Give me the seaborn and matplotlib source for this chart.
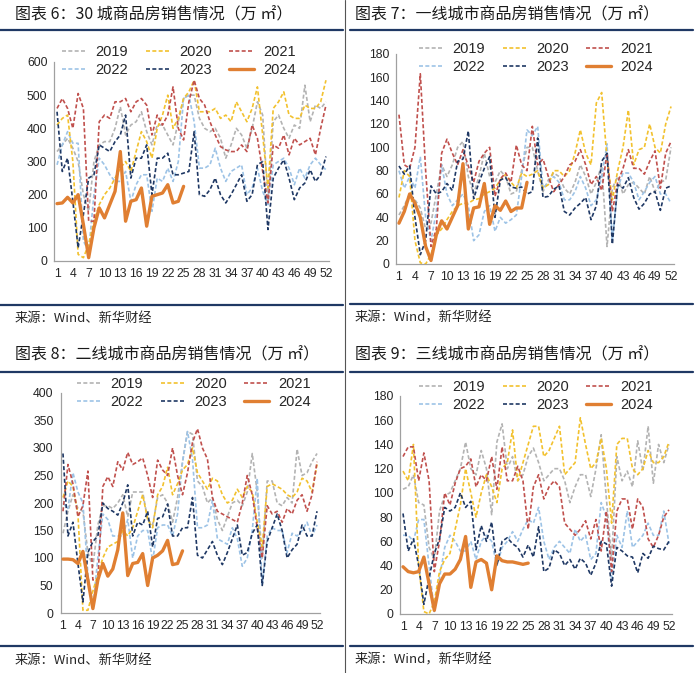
import matplotlib
matplotlib.use("Agg")
import matplotlib.pyplot as plt
from matplotlib.lines import Line2D
import seaborn as sns
import pandas as pd

sns.set_theme(style="white")
plt.rcParams['font.family'] = ['Liberation Sans', 'Noto Sans CJK SC', 'DejaVu Sans']

weeks = list(range(1, 53))
weeks_2024 = list(range(1, 26))
years = ["2019", "2020", "2021", "2022", "2023", "2024"]

# ---- 30 cities ----
c30_2019 = [330,350,370,340,300,200,150,300,350,360, 360,400,465,380,410,420,450,390,350,410,
            410,380,350,420,490,500,500,430,400,390, 400,370,310,350,400,380,340,400,480,440,
            180,420,440,400,370,410,400,530,420,470, 460,480]
c30_2020 = [410,430,440,300,20,10,50,120,170,200, 220,250,280,300,270,330,390,360,310,400,
            440,500,400,430,490,510,545,450,450,450, 460,430,440,420,480,450,420,460,525,380,
            220,460,480,510,440,430,430,470,460,460, 480,545]
c30_2021 = [460,490,460,400,505,460,120,120,420,440, 430,480,480,490,450,480,490,470,380,440,
            410,440,525,400,365,480,545,490,470,420, 380,345,335,330,330,350,330,410,370,270,
            175,350,340,380,320,370,350,360,370,320, 400,470]
c30_2022 = [290,350,390,355,355,60,30,200,310,290, 260,240,240,270,180,230,260,260,150,250,
            240,280,240,300,490,500,420,280,280,290, 340,280,240,270,280,290,200,220,280,210,
            170,290,300,310,280,230,280,250,290,310, 290,275]
c30_2023 = [450,270,310,180,40,140,250,260,350,340, 330,360,380,440,250,310,310,350,200,310,
            310,325,260,260,265,270,390,200,195,215, 250,200,175,200,230,260,180,200,290,300,
            95,250,280,305,250,185,220,235,275,240, 260,315]
c30_2024 = [173,175,192,175,200,110,10,100,160,130, 170,210,330,120,180,185,220,105,195,200,
            205,230,175,180,225]

# ---- tier-1 cities ----
t1_2019 = [42,50,60,55,48,30,35,60,85,75, 85,100,105,75,60,75,95,75,70,80,
           75,60,62,80,100,100,80,62,72,78, 75,65,60,70,85,75,60,70,85,15,
           65,75,60,68,70,65,60,75,62,70, 72,100]
t1_2020 = [57,80,75,20,1,0,8,25,30,38, 45,50,52,52,55,56,60,62,65,72,
           77,70,65,78,75,77,80,65,68,80, 80,75,80,95,115,95,85,138,147,90,
           55,80,100,132,85,98,100,120,100,95, 120,135]
t1_2021 = [128,85,82,100,163,80,15,30,95,107, 95,85,98,84,70,88,95,100,58,73,
           78,70,102,85,80,118,85,90,75,62, 68,75,85,88,98,85,68,75,63,95,
           45,70,82,98,82,82,77,88,97,65, 95,105]
t1_2022 = [80,65,75,65,92,40,20,45,85,60, 50,55,60,50,20,25,45,50,28,40,
           35,38,42,75,115,110,118,65,70,75, 70,55,55,62,75,65,50,55,75,103,
           20,65,78,78,70,55,62,70,75,60, 60,52]
t1_2023 = [84,77,84,40,8,20,67,60,62,69, 63,88,90,114,56,70,82,92,40,72,
           74,66,65,66,60,62,108,57,58,64, 67,45,42,48,52,57,38,50,88,95,
           17,68,65,74,57,47,52,60,62,46, 65,67]
t1_2024 = [35,45,60,52,40,15,3,25,37,30, 40,50,86,30,48,49,69,34,50,46,
           54,45,48,48,70]

# ---- tier-2 cities ----
t2_2019 = [145,185,215,190,185,110,85,160,195,195, 190,200,215,175,220,220,220,170,160,210,
           215,200,165,210,275,330,325,240,230,200, 210,170,150,175,200,205,195,220,290,220,
           100,240,240,200,195,210,200,298,250,255, 275,290]
t2_2020 = [210,240,230,180,5,5,40,70,100,120, 125,130,150,140,155,185,215,170,155,215,
           230,265,215,235,260,270,300,255,240,225, 245,240,215,200,205,225,210,230,220,165,
           120,230,235,230,225,215,210,220,245,240, 220,270]
t2_2021 = [185,270,235,175,195,258,60,60,230,248, 230,275,260,292,270,275,282,250,210,278,
           260,250,300,250,215,255,310,335,300,280, 210,185,180,175,170,165,200,250,215,155,
           100,195,180,185,165,190,180,205,215,185, 215,275]
t2_2022 = [200,190,255,220,200,70,10,100,180,170, 140,140,140,170,100,140,150,150,95,155,
           160,160,140,180,275,330,280,155,155,160, 205,135,130,125,155,135,85,100,150,245,
           50,140,155,150,150,110,145,140,150,165, 140,160]
t2_2023 = [290,140,165,90,20,110,130,140,200,190, 185,178,200,233,140,165,160,185,120,172,
           175,198,140,140,155,155,210,105,100,115, 130,105,88,110,135,160,105,110,145,160,
           50,130,155,180,150,100,115,125,160,140, 140,185]
t2_2024 = [98,98,97,90,112,60,8,60,90,67, 80,115,182,68,90,92,108,50,100,105,
           113,132,88,90,113]

# ---- tier-3 cities ----
t3_2019 = [103,105,115,92,90,55,45,85,98,100, 110,120,142,120,115,135,120,82,142,157,
           120,130,110,115,130,137,125,110,115,120, 120,110,92,105,115,115,97,120,148,95,
           45,130,110,118,105,143,118,155,108,140, 125,140]
t3_2020 = [118,110,140,40,2,0,10,35,45,50, 70,90,120,100,80,100,115,105,92,120,
           125,152,110,125,140,155,155,130,135,145, 155,115,120,125,162,140,120,125,145,120,
           75,140,145,145,120,115,120,135,125,125, 130,142]
t3_2021 = [130,138,138,110,133,110,35,60,100,90, 108,120,122,128,105,115,110,130,103,138,
           110,110,122,110,70,105,115,95,105,110, 105,75,70,65,70,77,62,78,52,85,
           35,85,95,95,70,95,88,62,55,65, 80,86]
t3_2022 = [65,65,60,78,78,40,2,30,55,65, 60,52,52,60,45,60,65,60,40,55,
           60,68,60,70,78,75,88,60,45,55, 60,55,50,70,60,65,45,50,92,80,
           30,65,55,85,55,60,65,75,65,65, 85,58]
t3_2023 = [83,52,62,40,8,30,50,62,88,85, 88,100,88,93,53,73,60,76,40,60,
           63,58,55,47,57,47,72,35,38,53, 50,40,45,37,46,42,32,42,60,58,
           23,55,52,48,47,34,50,46,56,54, 53,60]
t3_2024 = [39,35,34,35,47,25,3,25,33,33, 37,45,64,22,43,45,42,20,48,44,
           43,43,42,41,42]

titles = ["图表 6：30 城商品房销售情况（万 ㎡）", "图表 7：一线城市商品房销售情况（万 ㎡）",
          "图表 8：二线城市商品房销售情况（万 ㎡）", "图表 9：三线城市商品房销售情况（万 ㎡）"]
sources = ["来源：Wind、新华财经", "来源：Wind，新华财经", "来源：Wind、新华财经", "来源：Wind，新华财经"]

colors = {"2019": "#b3b3b3", "2020": "#f2c12e", "2021": "#c0504d",
          "2022": "#9dc3e6", "2023": "#1f3864", "2024": "#e07f32"}

W, H = 700, 673
fig = plt.figure(figsize=(7, 6.73), dpi=100)
fig.patch.set_facecolor("white")

def rect(l, t, r, b):
    return [l / W, 1 - b / H, (r - l) / W, (b - t) / H]

def hline(x0, x1, y, color="#1f3864", lw=1.6):
    fig.add_artist(Line2D([x0 / W, x1 / W], [1 - y / H, 1 - y / H],
                          transform=fig.transFigure, color=color, lw=lw))

panels = [
    dict(data=[c30_2019, c30_2020, c30_2021, c30_2022, c30_2023, c30_2024],
         rect=(54.4, 62, 328.6, 261), ymax=600, ystep=100,
         title_xy=(15, 15), src_xy=(15, 318), rules=(0, 343, 30, 305), leg=(62, 45)),
    dict(data=[t1_2019, t1_2020, t1_2021, t1_2022, t1_2023, t1_2024],
         rect=(396.3, 54, 673.7, 264), ymax=180, ystep=20,
         title_xy=(355, 15), src_xy=(355, 318), rules=(350, 693, 30, 304), leg=(419, 42)),
    dict(data=[t2_2019, t2_2020, t2_2021, t2_2022, t2_2023, t2_2024],
         rect=(60.5, 393, 319.5, 613), ymax=400, ystep=50,
         title_xy=(15, 355), src_xy=(15, 660), rules=(0, 343, 372, 646), leg=(77, 377)),
    dict(data=[t3_2019, t3_2020, t3_2021, t3_2022, t3_2023, t3_2024],
         rect=(400.4, 396, 671.6, 614), ymax=180, ystep=20,
         title_xy=(355, 355), src_xy=(355, 660), rules=(350, 693, 372, 646), leg=(419, 380)),
]

cjk = ['Noto Sans CJK SC', 'DejaVu Sans']

for i, p in enumerate(panels):
    ax = fig.add_axes(rect(*p["rect"]))
    ax.set_facecolor("white")
    draw_order = ["2019", "2022", "2020", "2021", "2023", "2024"]
    for yr in draw_order:
        vals = p["data"][years.index(yr)]
        xs = weeks_2024 if yr == "2024" else weeks
        df = pd.DataFrame({"week": xs, "value": vals})
        if yr == "2024":
            sns.lineplot(data=df, x="week", y="value", ax=ax, color=colors[yr],
                         linewidth=2.4, label=yr, zorder=5)
        else:
            sns.lineplot(data=df, x="week", y="value", ax=ax, color=colors[yr],
                         linewidth=1.2, label=yr, zorder=3)
            ax.lines[-1].set_dashes([2.4, 1.4])
    ax.set_xlim(0.5, 52.5)
    ax.set_ylim(0, p["ymax"])
    ax.set_yticks(list(range(0, p["ymax"] + 1, p["ystep"])))
    ax.set_xticks(weeks)
    ax.set_xticklabels([str(w) if (w - 1) % 3 == 0 else "" for w in weeks])
    ax.set_xlabel("")
    ax.set_ylabel("")
    for s in ["top", "right"]:
        ax.spines[s].set_visible(False)
    for s in ["left", "bottom"]:
        ax.spines[s].set_color("#a0a0a0")
        ax.spines[s].set_linewidth(0.9)
    ax.tick_params(axis="x", direction="out", length=3, width=0.8, color="#a0a0a0",
                   labelsize=8.8, labelcolor="#262626", pad=2)
    ax.tick_params(axis="y", direction="out", length=3, width=0.8, color="#a0a0a0",
                   labelsize=8.8, labelcolor="#262626", pad=2)
    handles, labels = ax.get_legend_handles_labels()
    hmap = dict(zip(labels, handles))
    order = ["2019", "2022", "2020", "2023", "2021", "2024"]
    lx, ly = p["leg"]
    ax.legend([hmap[k] for k in order], order, ncol=3, loc="upper left",
              bbox_to_anchor=(lx / W, 1 - ly / H), bbox_transform=fig.transFigure,
              frameon=False, fontsize=10.5, handlelength=1.7, handletextpad=0.6,
              columnspacing=1.2, labelspacing=0.25, borderpad=0, borderaxespad=0)
    fig.text(p["title_xy"][0] / W, 1 - p["title_xy"][1] / H, titles[i], ha="left",
             va="center", fontsize=11.5, color="#1a1a1a", family=cjk, weight="medium")
    fig.text(p["src_xy"][0] / W, 1 - p["src_xy"][1] / H, sources[i], ha="left",
             va="center", fontsize=9.5, color="#262626", family=cjk)
    x0, x1, yt, yb = p["rules"]
    hline(x0, x1, yt)
    hline(x0, x1, yb)

fig.add_artist(Line2D([345 / W, 345 / W], [0, 1], transform=fig.transFigure,
                      color="#555555", lw=0.8))

fig.savefig("out.png", dpi=100, facecolor="white")
